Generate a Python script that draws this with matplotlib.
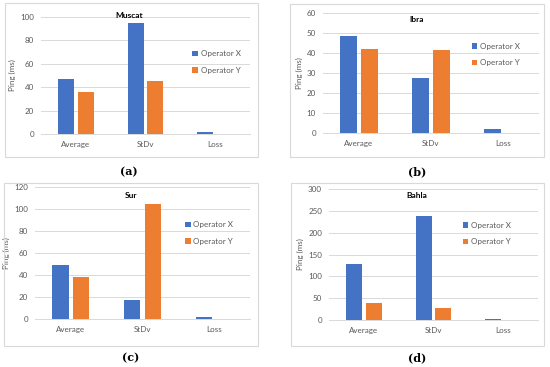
import numpy as np
import matplotlib
matplotlib.use('Agg')
import matplotlib.pyplot as plt
from matplotlib.patches import Rectangle

# ── data ──
categories = ['Average', 'StDv', 'Loss']
series_names = ['Operator X', 'Operator Y']

muscat_x = [47, 94.5, 1.5]
muscat_y = [36, 45, 0]
ibra_x = [48.3, 27.3, 2.2]
ibra_y = [41.8, 41.5, 0]
sur_x = [49.5, 17.5, 1.5]
sur_y = [37.8, 105, 0]
bahla_x = [128, 238, 2.5]
bahla_y = [39, 26.5, 0]

titles = ['Muscat', 'Ibra', 'Sur', 'Bahla']
captions = ['(a)', '(b)', '(c)', '(d)']
y_max = [100, 60, 120, 300]
y_step = [20, 10, 20, 50]

BLUE = '#4472C4'
ORANGE = '#ED7D31'
GRID = '#d9d9d9'
TXT = '#595959'

W, H = 550, 367
plt.rcParams['font.family'] = ['Lato', 'DejaVu Sans']

fig = plt.figure(figsize=(W / 100, H / 100), dpi=100)

# pixel boxes: (frame l, t, r, b), (axes l, t, r, b), legend anchor (x, y)
panels = [
    ((5, 3, 258, 157), (41, 17, 250, 134), (0.69, 0.615), 129, 15, 172),
    ((290, 4, 544, 157), (323, 13, 539, 133), (0.655, 0.655), 417, 20, 172),
    ((4, 183, 258, 346), (35, 187, 250, 319), (0.665, 0.65), 131, 195, 358),
    ((291, 183, 544, 346), (329, 189, 538, 320), (0.605, 0.66), 417, 196, 358),
]
data = [(muscat_x, muscat_y), (ibra_x, ibra_y), (sur_x, sur_y), (bahla_x, bahla_y)]


def px(l, t, r, b):
    return [l / W, 1 - b / H, (r - l) / W, (b - t) / H]


for i, (frame, box, leg, tx, ty, cy) in enumerate(panels):
    # light grey chart frame
    fl, ft, fr, fb = frame
    fig.patches.append(Rectangle((fl / W, 1 - fb / H), (fr - fl) / W, (fb - ft) / H,
                                 transform=fig.transFigure, fill=False,
                                 edgecolor=GRID, linewidth=0.8))
    ax = fig.add_axes(px(*box))
    xs = np.arange(len(categories))
    xv, yv = data[i]
    ax.bar(xs - 0.143, xv, width=0.23, color=BLUE, label=series_names[0])
    ax.bar(xs + 0.143, yv, width=0.23, color=ORANGE, label=series_names[1])
    ax.set_xlim(-0.5, 2.5)
    ax.set_ylim(0, y_max[i])
    ax.set_yticks(np.arange(0, y_max[i] + 1, y_step[i]))
    ax.set_xticks(xs)
    ax.set_xticklabels(categories)
    ax.tick_params(length=0, labelsize=5.8, colors=TXT, pad=5)
    ax.grid(axis='y', color=GRID, linewidth=0.7)
    ax.set_axisbelow(True)
    for s in ['top', 'right', 'left']:
        ax.spines[s].set_visible(False)
    ax.spines['bottom'].set_color(GRID)
    ax.spines['bottom'].set_linewidth(0.7)
    ax.set_ylabel('Ping (ms)', fontsize=5.8, color=TXT, labelpad=3)
    ax.legend(loc='center left', bbox_to_anchor=leg, frameon=False,
              fontsize=5.8, handlelength=0.7, handleheight=0.7,
              handletextpad=0.3, labelspacing=1.2, labelcolor=TXT)
    fig.text(tx / W, 1 - ty / H, titles[i], ha='center', va='center',
             fontsize=6, fontweight='bold', color='black')
    fig.text(tx / W, 1 - cy / H, captions[i], ha='center', va='center',
             fontsize=8, family='DejaVu Serif', fontweight='bold', color='black')

fig.savefig('out.png', dpi=100)
